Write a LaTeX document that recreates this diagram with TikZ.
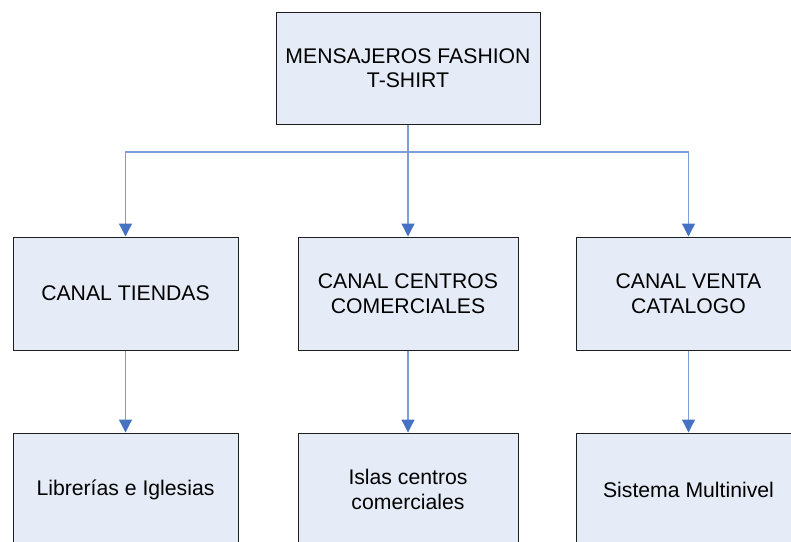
\documentclass[tikz,border=0pt]{standalone}
\usepackage{fontspec}
\setmainfont{Liberation Sans}
\usetikzlibrary{arrows.meta}
\definecolor{boxfill}{RGB}{230,236,247}
\definecolor{boxline}{RGB}{30,30,30}
\definecolor{connline}{RGB}{125,158,214}
\definecolor{tipfill}{RGB}{70,114,196}
\begin{document}
\begin{tikzpicture}[x=1pt,y=-1pt,
  orgbox/.style={draw=boxline, fill=boxfill, line width=1pt, align=center, inner sep=0pt,
    font=\fontsize{21.2}{24.5}\selectfont},
  conn/.style={draw=connline, line width=1.3pt},
  arr/.style={conn, -{Triangle[width=13pt,length=13pt,fill=tipfill,color=tipfill]}}]
\useasboundingbox (0,0) rectangle (791,541);
\clip (0,0) rectangle (791,541);
% top
\node[orgbox, minimum width=264pt, minimum height=112pt] (top) at (408,68) {MENSAJEROS FASHION\\T-SHIRT};
% second row
\node[orgbox, minimum width=225pt, minimum height=113pt] (c1) at (125.5,293.5) {CANAL TIENDAS};
\node[orgbox, minimum width=220pt, minimum height=113pt] (c2) at (408,293.5) {CANAL CENTROS\\COMERCIALES};
\node[orgbox, minimum width=225pt, minimum height=113pt] (c3) at (688.5,293.5) {CANAL VENTA\\CATALOGO};
% third row
\node[orgbox, minimum width=225pt, minimum height=113pt] (d1) at (125.5,489.5) {Librerías e Iglesias};
\node[orgbox, minimum width=220pt, minimum height=113pt] (d2) at (408,489.5) {Islas centros\\comerciales};
\node[orgbox, minimum width=225pt, minimum height=113pt] (d3) at (688.5,489.5) {Sistema Multinivel};
% connectors
\coordinate (j) at (408,152);
\draw[conn] (top.south) -- (j);
\draw[arr] (j) -| (c1.north);
\draw[arr] (j) -- (c2.north);
\draw[arr] (j) -| (c3.north);
\draw[arr] (c1.south) -- (d1.north);
\draw[arr] (c2.south) -- (d2.north);
\draw[arr] (c3.south) -- (d3.north);
\end{tikzpicture}
\end{document}
